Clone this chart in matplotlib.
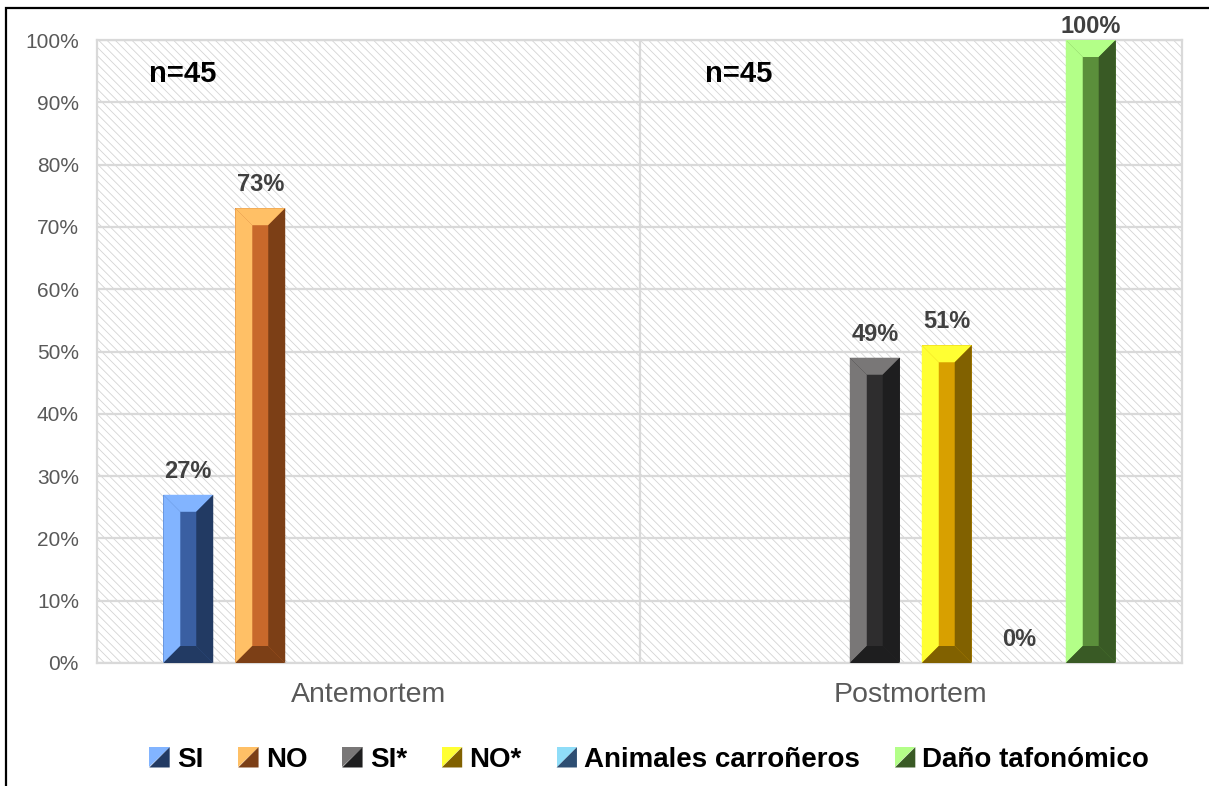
import numpy as np
import matplotlib.pyplot as plt
from matplotlib.patches import Polygon, Rectangle
from matplotlib.legend_handler import HandlerBase

plt.rcParams['font.family'] = ['Liberation Sans', 'DejaVu Sans']
plt.rcParams['hatch.linewidth'] = 0.6

# data
categories = ['Antemortem', 'Postmortem']
series = ['SI', 'NO', 'SI*', 'NO*', 'Animales carroñeros', 'Daño tafonómico']
values = {
    'SI': [27, np.nan],
    'NO': [73, np.nan],
    'SI*': [np.nan, 49],
    'NO*': [np.nan, 51],
    'Animales carroñeros': [np.nan, 0],
    'Daño tafonómico': [np.nan, 100],
}
n_labels = ['n=45', 'n=45']
yticks = list(range(0, 101, 10))

# (light, mid, dark) shades for the bevelled bars
shades = {
    'SI': ('#82B4FF', '#3A5FA2', '#223A63'),
    'NO': ('#FFC066', '#C8692B', '#7C3F16'),
    'SI*': ('#797777', '#2E2D2E', '#1E1E1F'),
    'NO*': ('#FFFF33', '#D8A000', '#816100'),
    'Animales carroñeros': ('#8FDDF8', '#3E6A96', '#2D4E72'),
    'Daño tafonómico': ('#B3FF88', '#5B8F3B', '#395A25'),
}

W, H = 1209, 786
fig = plt.figure(figsize=(W / 100, H / 100), dpi=100)
ax = fig.add_axes([97 / W, 1 - 663 / H, (1182 - 97) / W, (663 - 40) / H])

# figure border (left + top visible)
fig.patches.append(Rectangle((6 / W, -0.1), 1.2, 1.1 - 8 / H, transform=fig.transFigure,
                             fill=False, edgecolor='black', linewidth=1.6))

x = np.arange(len(categories))
slot = 0.1327
bar_w = 0.092

ax.set_xlim(-0.5, 1.5)
ax.set_ylim(0, 100)

# hatched plot area
ax.add_patch(Rectangle((0, 0), 1, 1, transform=ax.transAxes, facecolor='white',
                       edgecolor='#D4D4D4', hatch='\\\\\\\\', linewidth=0, zorder=0.1))

ax.set_axisbelow(True)
ax.yaxis.grid(True, color='#D9D9D9', linewidth=1.6)
ax.axvline(0.5, color='#D9D9D9', linewidth=1.6, zorder=0.6)
for s in ax.spines.values():
    s.set_color('#D9D9D9')
    s.set_linewidth(1.6)

ax_h_px = (663 - 40)
bevel_px = 17
yb = bevel_px / ax_h_px * 100
xb = bar_w * 0.34

for i, name in enumerate(series):
    off = (i - (len(series) - 1) / 2) * slot
    vals = np.array(values[name], dtype=float)
    light, mid, dark = shades[name]
    bars = ax.bar(x + off, np.nan_to_num(vals), bar_w, color=mid, zorder=2)
    for b, v in zip(bars, vals):
        if np.isnan(v):
            b.set_visible(False)
            continue
        x0, x1 = b.get_x(), b.get_x() + b.get_width()
        y0, y1 = 0, b.get_height()
        cx = (x0 + x1) / 2
        # data label
        off_px = 12 if v < 95 else 2
        ax.annotate(f'{v:.0f}%', (cx, y1), xytext=(0, off_px), textcoords='offset pixels',
                    ha='center', va='bottom', fontsize=17, fontweight='bold',
                    color='#404040', annotation_clip=False)
        if y1 <= 0:
            continue
        ax.add_patch(Polygon([(x0, y0), (x0, y1), (x0 + xb, y1 - yb), (x0 + xb, y0 + yb)],
                             facecolor=light, edgecolor='none', zorder=3))
        ax.add_patch(Polygon([(x0, y1), (x1, y1), (x1 - xb, y1 - yb), (x0 + xb, y1 - yb)],
                             facecolor=light, edgecolor='none', zorder=3))
        ax.add_patch(Polygon([(x1, y1), (x1, y0), (x1 - xb, y0 + yb), (x1 - xb, y1 - yb)],
                             facecolor=dark, edgecolor='none', zorder=3))
        ax.add_patch(Polygon([(x0, y0), (x1, y0), (x1 - xb, y0 + yb), (x0 + xb, y0 + yb)],
                             facecolor=dark, edgecolor='none', zorder=3))

# n labels
ax.text(-0.405, 94.6, n_labels[0], ha='left', va='center', fontsize=21, fontweight='bold')
ax.text(0.621, 94.6, n_labels[1], ha='left', va='center', fontsize=21, fontweight='bold')

ax.set_yticks(yticks)
ax.set_yticklabels([f'{t}%' for t in yticks])
ax.set_xticks(x)
ax.set_xticklabels(categories)
ax.tick_params(axis='y', length=0, pad=13, labelsize=15, labelcolor='#595959')
ax.tick_params(axis='x', length=0, pad=14, labelsize=20.5, labelcolor='#595959')


class BevelHandle(HandlerBase):
    def create_artists(self, legend, orig_handle, xdescent, ydescent, width, height, fontsize, trans):
        light, dark = orig_handle
        s = min(width, height) * 1.0
        x0 = -xdescent + (width - s) / 2
        y0 = -ydescent + (height - s) / 2
        t1 = Polygon([(x0, y0), (x0, y0 + s), (x0 + s, y0 + s)], facecolor=light,
                     edgecolor='none', transform=trans)
        t2 = Polygon([(x0, y0), (x0 + s, y0 + s), (x0 + s, y0)], facecolor=dark,
                     edgecolor='none', transform=trans)
        return [t1, t2]


handles = [(shades[n][0], shades[n][2]) for n in series]
fig.legend(handles, series, handler_map={tuple: BevelHandle()}, loc='center',
           bbox_to_anchor=(0.537, 1 - 760 / H), ncol=6, frameon=False,
           prop={'size': 20, 'weight': 'bold'}, handlelength=0.75, handleheight=0.75,
           handletextpad=0.25, columnspacing=1.25)

fig.savefig('out.png', dpi=100)
